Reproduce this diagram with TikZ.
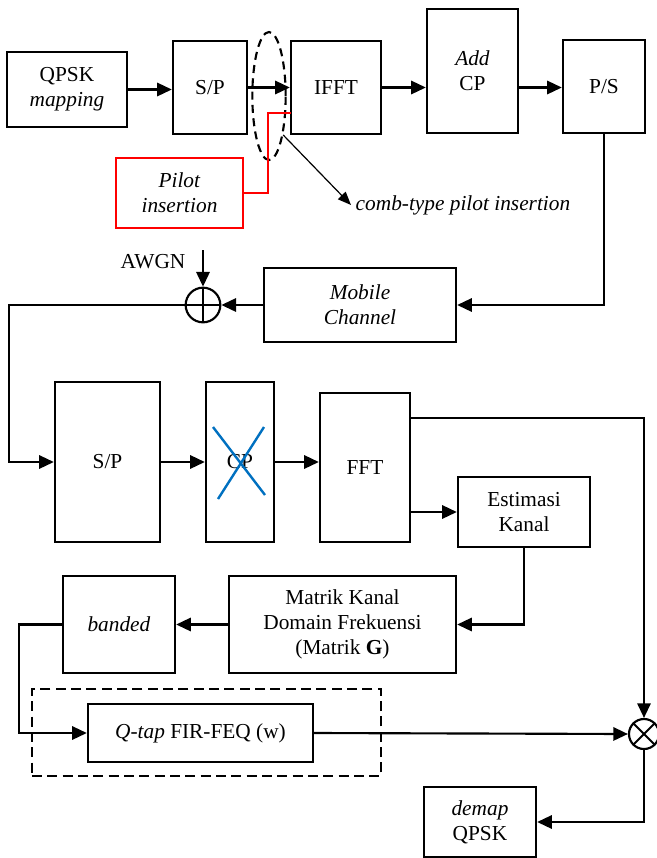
\documentclass[tikz,border=0pt]{standalone}
\usepackage{fontspec}
\setmainfont{Liberation Serif}
\usetikzlibrary{arrows.meta,calc,positioning,shapes.geometric}
\definecolor{xblue}{RGB}{0,112,192}

\begin{document}
\begin{tikzpicture}[x=0.75pt,y=-0.75pt,>={Triangle[length=11pt,width=10pt]},
  font=\fontsize{16}{18.5}\selectfont,
  blk/.style={draw,line width=1.8pt,inner sep=0pt,align=center},
  wire/.style={line width=1.6pt},
  sumnode/.style={circle,draw,line width=1.6pt,minimum size=26pt,inner sep=0pt}]
\useasboundingbox (0,0) rectangle (657,858);
% transmitter
\node[blk,minimum width=90pt,minimum height=56.25pt] (qpsk) at (67,89.5) {QPSK\\\textit{mapping}};
\node[blk,minimum width=55.5pt,minimum height=69.75pt] (sp1) at (210,87.5) {S/P};
\node[blk,minimum width=67.5pt,minimum height=69.75pt] (ifft) at (336,87.5) {IFFT};
\node[blk,minimum width=68.25pt,minimum height=93pt] (addcp) at (472.5,71) {\textit{Add}\\CP};
\node[blk,minimum width=61.5pt,minimum height=69.75pt] (ps) at (604,86.5) {P/S};
\node[blk,draw=red,minimum width=95.25pt,minimum height=52.5pt] (pilot) at (179.5,193) {\textit{Pilot}\\\textit{insertion}};
\coordinate (pin) at (291,113);
\node[ellipse,draw,line width=1.6pt,dash pattern=on 6pt off 4pt,minimum width=25pt,minimum height=96pt,inner sep=0pt] (comb) at (269,96) {};
\node[anchor=west] (combl) at (351,205) {\textit{comb-type pilot insertion}};
\draw[wire,->] (qpsk.east) -- (qpsk.east -| sp1.west);
\draw[wire,->] (sp1.east) -- (sp1.east -| ifft.west);
\draw[wire,->] (ifft.east) -- (ifft.east -| addcp.west);
\draw[wire,->] (addcp.east |- ifft.east) -- (ifft.east -| ps.west);
\draw[wire,red] (pilot.east) -- ++(24,0) |- (pin);
\draw[line width=0.9pt,-{Triangle[length=10pt,width=8pt]}] (comb.-70) -- (combl.west);
% channel
\node[blk,minimum width=144pt,minimum height=55.5pt] (mob) at (360,305) {\textit{Mobile}\\\textit{Channel}};
\node[sumnode] (add) at (203,305) {};
\draw[line width=1.4pt] (add.north) -- (add.south) (add.west) -- (add.east);
\node (awgn) at (153,262) {AWGN};
\coordinate (nin) at (203,250);
\coordinate (c1) at (9,305);
\draw[wire,->] (ps.south) |- (mob.east);
\draw[wire,->] (mob.west) -- (add.east);
\draw[wire,->] (nin) -- (add.north);
% receiver
\node[blk,minimum width=78.75pt,minimum height=120pt] (sp2) at (107.5,462) {S/P};
\node[blk,minimum width=51pt,minimum height=120pt] (cp) at (240,462) {CP};
\node[blk,minimum width=67.5pt,minimum height=111.75pt] (fft) at (365,467.5) {FFT};
\node[blk,minimum width=99pt,minimum height=52.5pt] (est) at (524,512) {Estimasi\\Kanal};
\node[blk,minimum width=170.25pt,minimum height=72.75pt] (mat) at (342.5,624.5) {Matrik Kanal\\Domain Frekuensi\\(Matrik \textbf{G})};
\node[blk,minimum width=84pt,minimum height=72.75pt] (band) at (119,624.5) {\textit{banded}};
\node[blk,minimum width=168.75pt,minimum height=43.5pt] (fir) at (200.5,733) {\textit{Q-tap} FIR-FEQ (w)};
\node[draw,line width=1.5pt,dash pattern=on 7.5pt off 4pt,inner sep=0pt,minimum width=261.75pt,minimum height=65.25pt] (feq) at (206.5,732.5) {};
\node[sumnode,minimum size=22.5pt] (mul) at (644,734) {};
\draw[line width=1.4pt] (mul.45) -- (mul.225) (mul.135) -- (mul.315);
\node[blk,minimum width=84pt,minimum height=52.5pt] (dem) at (480,822) {\textit{demap}\\QPSK};
\coordinate (fo) at (410,418);
\draw[xblue,line width=1.8pt] (213,427) -- (265,495) (264,427) -- (218,499);
\draw[wire,->] (add.west) -- (c1) |- (sp2.west);
\draw[wire,->] (sp2.east) -- (cp.west);
\draw[wire,->] (cp.east) -- (cp.east -| fft.west);
\draw[wire,->] (fft.east |- est.west) -- (est.west);
\draw[wire,->] (fo) -| (mul.north);
\draw[wire,->] (est.south) |- (mat.east);
\draw[wire,->] (mat.west) -- (band.east);
\draw[wire,->] (band.west) -- ++(-43,0) |- (fir.west);
\draw[wire,->] (fir.east) -- (mul.west);
\draw[wire,->] (mul.south) |- (dem.east);
\end{tikzpicture}
\end{document}
